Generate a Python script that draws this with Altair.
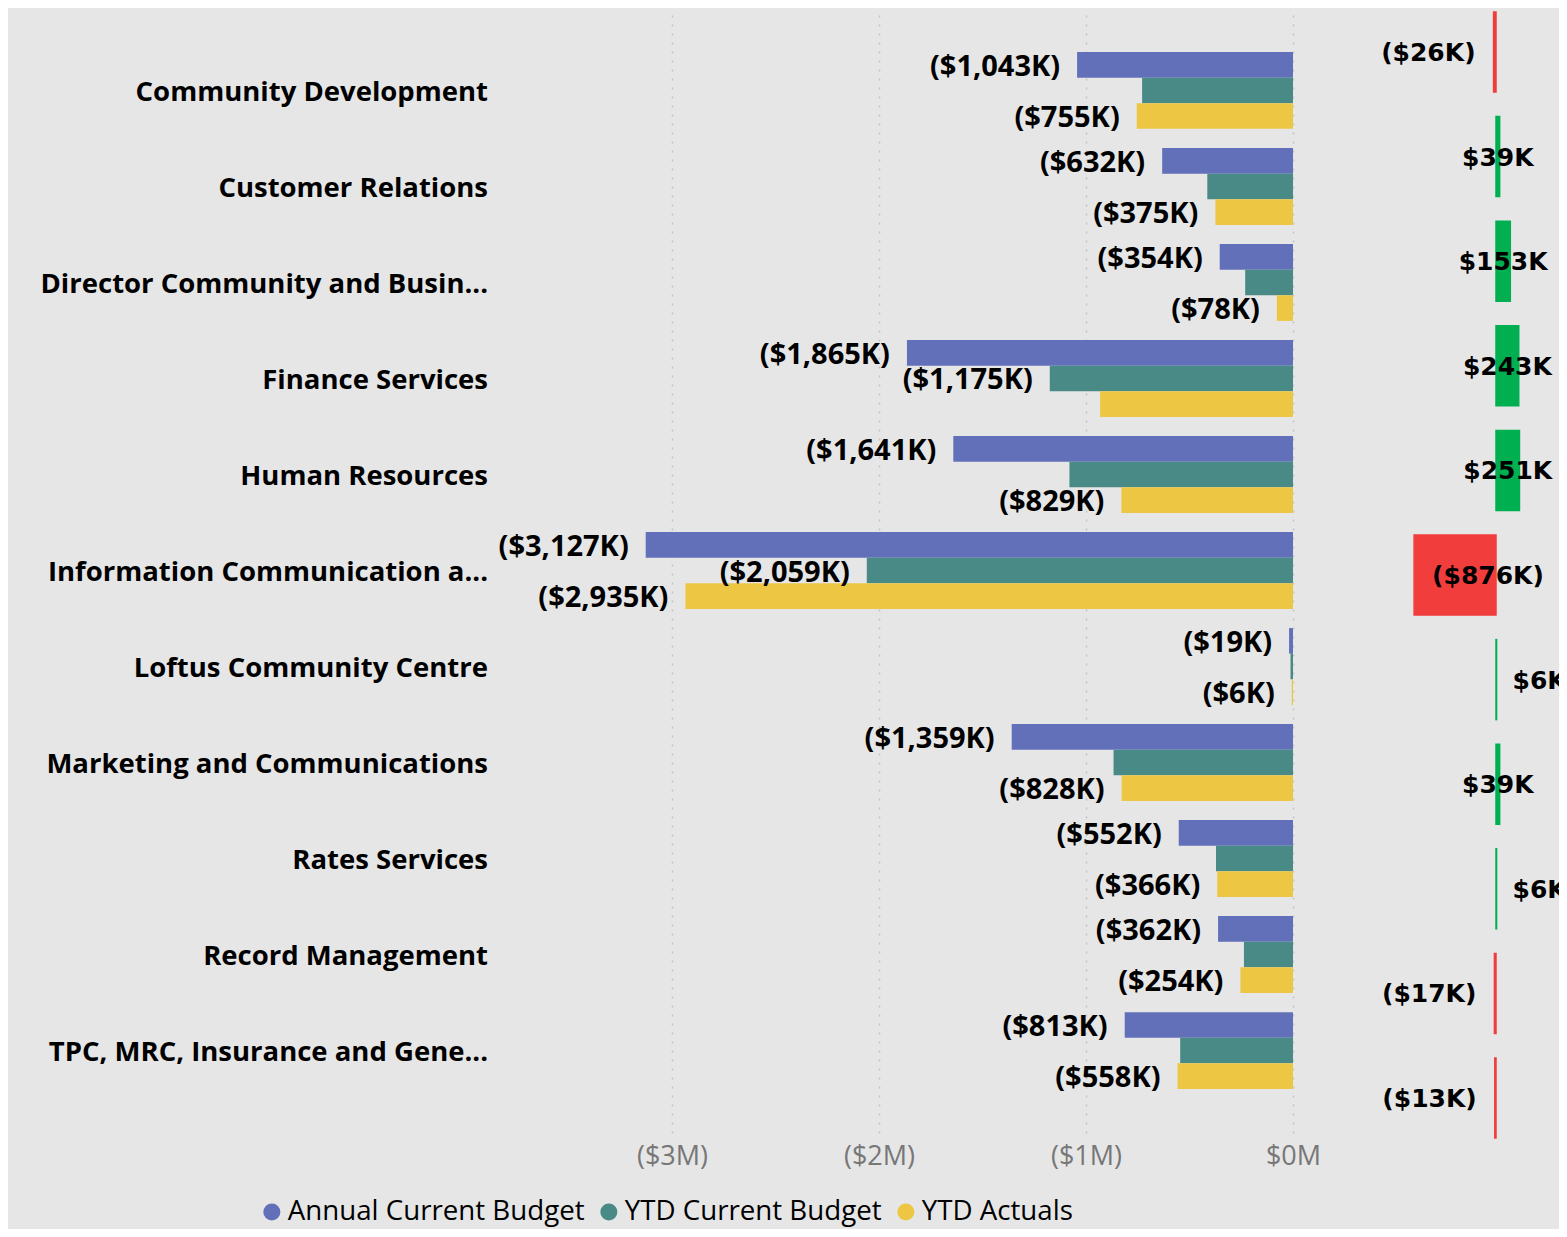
import altair as alt
import pandas as pd

categories = [
    "Community Development",
    "Customer Relations",
    "Director Community and Busin...",
    "Finance Services",
    "Human Resources",
    "Information Communication a...",
    "Loftus Community Centre",
    "Marketing and Communications",
    "Rates Services",
    "Record Management",
    "TPC, MRC, Insurance and Gene...",
]
series = ["Annual Current Budget", "YTD Current Budget", "YTD Actuals"]
colors = ["#6170B9", "#4A8A86", "#EDC744"]

# values in $K
annual_budget = [-1043, -632, -354, -1865, -1641, -3127, -19, -1359, -552, -362, -813]
ytd_budget = [-729, -414, -231, -1175, -1080, -2059, -12, -867, -372, -237, -545]
ytd_actuals = [-755, -375, -78, -932, -829, -2935, -6, -828, -366, -254, -558]
variance = [-26, 39, 153, 243, 251, -876, 6, 39, 6, -17, -13]

# data labels that are visible in the original
annual_labelled = categories
ytd_budget_labelled = ["Finance Services", "Information Communication a..."]
actuals_labelled = [c for c in categories if c != "Finance Services"]

x_ticks = [-3000, -2000, -1000, 0]

rows = []
for s, vals, lab in zip(series, [annual_budget, ytd_budget, ytd_actuals],
                        [annual_labelled, ytd_budget_labelled, actuals_labelled]):
    for c, v in zip(categories, vals):
        rows.append({"category": c, "series": s, "value": v, "shown": c in lab})
df = pd.DataFrame(rows)


def placement(v):
    if v >= 0:
        return "out_pos" if v < 10 else "center"
    return "out_neg" if v > -100 else "in_neg"


vdf = pd.DataFrame({"category": categories, "variance": variance})
vdf["place"] = vdf["variance"].apply(placement)
vdf["half"] = vdf["variance"] / 2

BG = "#E6E6E6"
FONT = "Open Sans"


def ys_main():
    return alt.Scale(type="band", domain=categories, range=[0, 1125],
                     paddingInner=0.2, paddingOuter=0.459)


def yoff():
    return alt.Scale(type="band", domain=series, paddingInner=0, paddingOuter=0)


def ys_var():
    return alt.Scale(type="band", domain=categories, range=[4, 1130],
                     paddingInner=0.235, paddingOuter=0)


xs_main = alt.Scale(domain=[-3800, 0], range=[1285 - 3800 * 0.207, 1285], nice=False, zero=False)
xs_var = alt.Scale(domain=[-1000, 700], range=[1488 - 1000 * 0.0935, 1488 + 700 * 0.0935],
                   nice=False, zero=False)

bars = alt.Chart(df).mark_bar().encode(
    y=alt.Y("category:N", scale=ys_main(), axis=None),
    yOffset=alt.YOffset("series:N", scale=yoff()),
    x=alt.X("value:Q", scale=xs_main, axis=alt.Axis(
        values=x_ticks,
        labelExpr="datum.value == 0 ? '$0M' : '($' + format(abs(datum.value) / 1000, 'd') + 'M)'",
        grid=True, gridDash=[2, 7], gridColor="#C4C4C4", gridWidth=1.5,
        domain=False, ticks=False, title=None, labelFlush=False,
        labelFont=FONT, labelFontSize=27, labelColor="#777777", labelPadding=10)),
    x2=alt.datum(0),
    color=alt.Color("series:N", scale=alt.Scale(domain=series, range=colors),
                    legend=alt.Legend(orient="none", legendX=250, legendY=1190,
                                      direction="horizontal", title=None,
                                      symbolType="circle", symbolSize=290,
                                      labelFont=FONT, labelFontSize=27.7, labelLimit=600,
                                      labelColor="#000000", labelOffset=2,
                                      columnPadding=10, symbolStrokeWidth=0)),
)

labels = alt.Chart(df).transform_filter("datum.shown").transform_calculate(
    label="'($' + format(abs(datum.value), ',') + 'K)'"
).mark_text(align="right", baseline="middle", dx=-17, dy=2, font=FONT, fontWeight="bold",
            fontSize=29, color="#000000").encode(
    y=alt.Y("category:N", scale=ys_main(), axis=None),
    yOffset=alt.YOffset("series:N", scale=yoff()),
    x=alt.X("value:Q", scale=xs_main, axis=None),
    text="label:N",
)

cat_text = alt.Chart(pd.DataFrame({"category": categories})).mark_text(
    align="right", baseline="middle", dy=2.5, font=FONT, fontWeight="bold", fontSize=27.5,
    color="#000000").encode(
    y=alt.Y("category:N", scale=ys_main(), axis=None),
    x=alt.value(480),
    text="category:N",
)

vbars = alt.Chart(vdf).mark_bar(strokeWidth=1.5).encode(
    y=alt.Y("category:N", scale=ys_var(), axis=None),
    x=alt.X("variance:Q", scale=xs_var, axis=None),
    x2=alt.datum(0),
    color=alt.condition("datum.variance > 0", alt.value("#00AF50"), alt.value("#F23D3D")),
    stroke=alt.condition("datum.variance > 0", alt.value("#00AF50"), alt.value("#F23D3D")),
)

vlabel_fmt = ("(datum.variance < 0 ? '($' : '$') + format(abs(datum.variance), ',') + 'K'"
              " + (datum.variance < 0 ? ')' : '')")


def vlayer(place, field, align, dx):
    return alt.Chart(vdf).transform_filter(f"datum.place == '{place}'").transform_calculate(
        label=vlabel_fmt
    ).mark_text(align=align, baseline="middle", dx=dx, dy=1, font="DejaVu Sans",
                fontWeight="bold", fontSize=25, color="#000000", clip=True).encode(
        y=alt.Y("category:N", scale=ys_var(), axis=None),
        x=alt.X(f"{field}:Q", scale=xs_var, axis=None),
        text="label:N",
    )


vlabels = [
    vlayer("center", "half", "center", 0),
    vlayer("out_pos", "variance", "left", 16),
    vlayer("out_neg", "variance", "right", -18),
    vlayer("in_neg", "variance", "left", 18),
]

chart = alt.layer(bars, labels, cat_text, vbars, *vlabels).resolve_scale(
    x="independent", y="independent", yOffset="independent", color="independent"
).properties(
    width=1551, height=1125,
    padding={"left": 0, "top": 0, "right": 0, "bottom": 96},
    autosize=alt.AutoSizeParams(type="none"),
    background=BG,
).configure_view(stroke=None)

chart.save("out.html", embed_options={"renderer": "svg", "actions": False})
